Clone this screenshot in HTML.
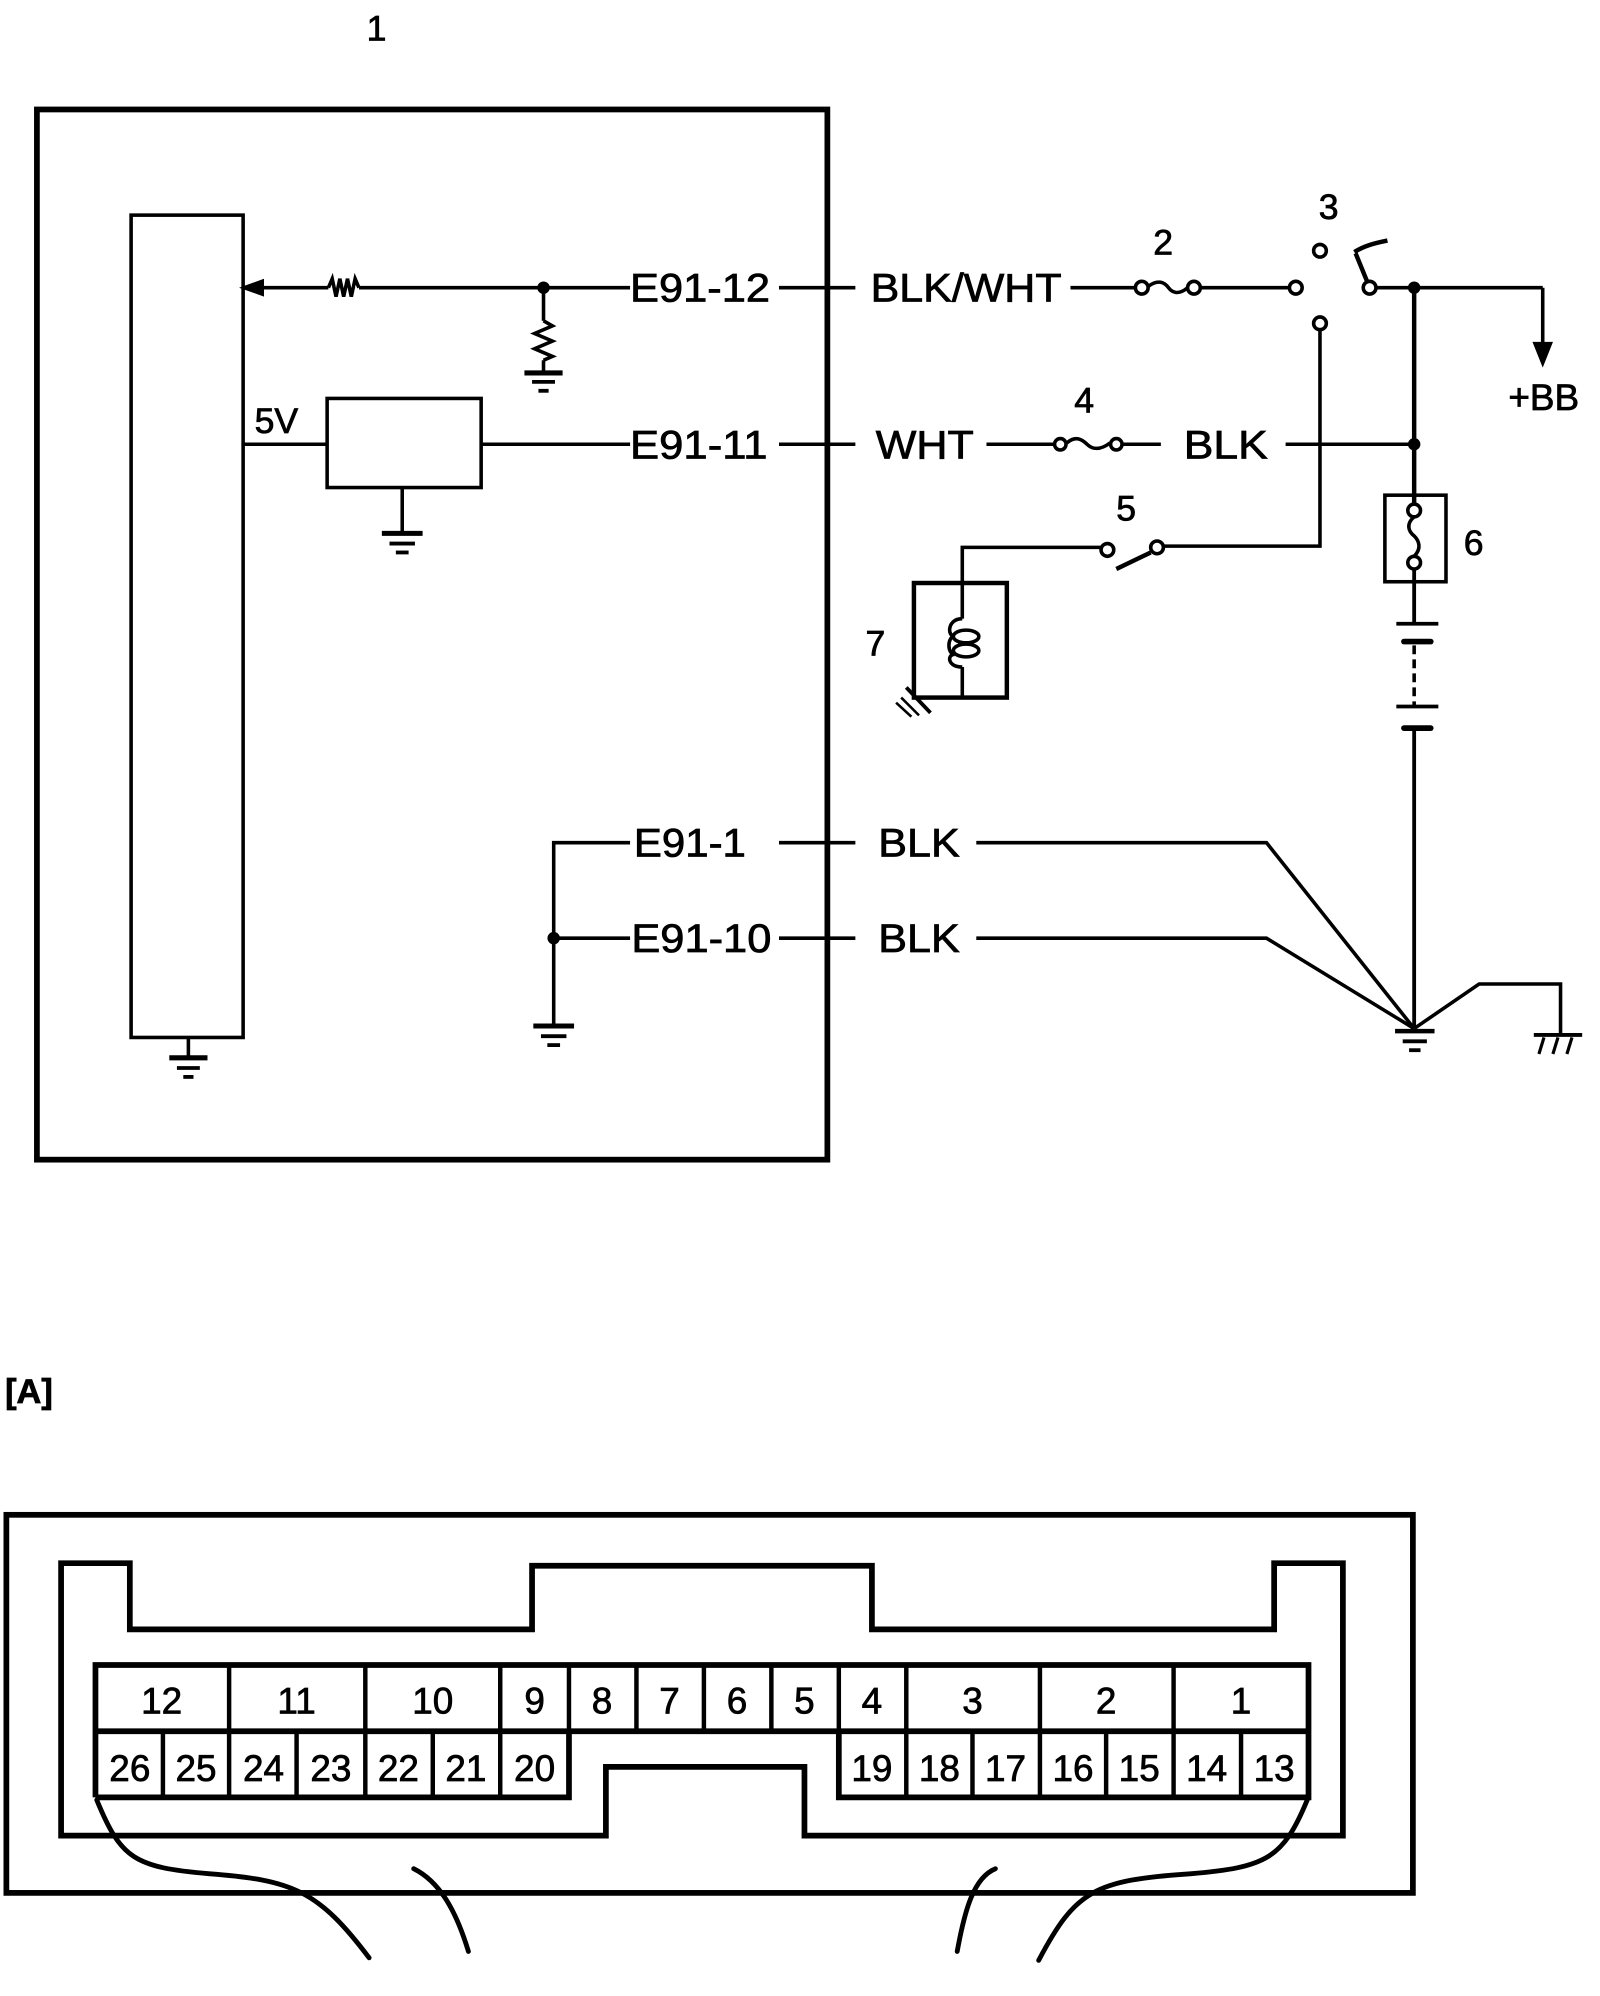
<!DOCTYPE html>
<html><head><meta charset="utf-8"><style>
html,body{margin:0;padding:0;background:#fff;}
svg{display:block;}
text{font-family:"Liberation Sans",Arial,sans-serif;fill:#000;stroke:#000;stroke-width:0.6;}
</style></head><body>
<svg width="1600" height="1996" viewBox="0 0 1257 1568" preserveAspectRatio="none" xmlns="http://www.w3.org/2000/svg">
<g fill="none" stroke="#000" stroke-width="2.8" stroke-linecap="butt">
<rect x="29" y="86" width="621" height="825" stroke-width="4.5"/>
<rect x="103" y="169" width="88" height="646"/>
<line x1="148" y1="815" x2="148" y2="830"/>
<line x1="133" y1="831" x2="163" y2="831" stroke-width="4"/>
<line x1="139" y1="839" x2="157" y2="839" stroke-width="3"/>
<line x1="144" y1="846" x2="152" y2="846" stroke-width="3"/>
<line x1="200" y1="226" x2="258" y2="226"/>
<polygon points="192,226 206,221 206,231" fill="#000"/>
<polyline points="258,226 261,219 264,233 267,219 270,233 273,219 276,233 279,219 282,226"/>
<line x1="282" y1="226" x2="495" y2="226"/>
<circle cx="427" cy="226" r="3.5" fill="#000"/>
<line x1="427" y1="226" x2="427" y2="252"/>
<polyline points="427,252 434,256 420,262 434,268 420,274 434,280 427,283"/>
<line x1="427" y1="283" x2="427" y2="292"/>
<line x1="412" y1="293" x2="442" y2="293" stroke-width="4"/>
<line x1="418" y1="300" x2="436" y2="300" stroke-width="3"/>
<line x1="423" y1="307" x2="431" y2="307" stroke-width="3"/>
<line x1="612" y1="226" x2="672" y2="226"/>
<line x1="841" y1="226" x2="892" y2="226"/>
<circle cx="897" cy="226" r="5"/><circle cx="938" cy="226" r="5"/>
<path d="M902,225 C910,219 915,222 918,226 C921,230 926,232 933,226"/>
<line x1="943" y1="226" x2="1013" y2="226"/>
<circle cx="1018" cy="226" r="5"/>
<circle cx="1037" cy="197" r="5"/>
<circle cx="1037" cy="254" r="5"/>
<circle cx="1076" cy="226" r="5"/>
<path d="M1074,221 L1065,199 M1064,198 C1072,193 1080,191 1090,189" stroke-width="3.5"/>
<line x1="1081" y1="226" x2="1212" y2="226"/>
<line x1="1212" y1="226" x2="1212" y2="272"/>
<polygon points="1206,270 1218,270 1212,285" fill="#000"/>
<circle cx="1111" cy="226" r="3.5" fill="#000"/>
<line x1="1111" y1="226" x2="1111" y2="395" stroke-width="3.5"/>
<line x1="191" y1="349" x2="257" y2="349"/>
<rect x="257" y="313" width="121" height="70"/>
<line x1="378" y1="349" x2="495" y2="349"/>
<line x1="316" y1="383" x2="316" y2="418"/>
<line x1="300" y1="419" x2="332" y2="419" stroke-width="4"/>
<line x1="306" y1="427" x2="326" y2="427" stroke-width="3"/>
<line x1="311" y1="434" x2="321" y2="434" stroke-width="3"/>
<line x1="612" y1="349" x2="672" y2="349"/>
<line x1="775" y1="349" x2="829" y2="349"/>
<circle cx="833" cy="349" r="4.5"/><circle cx="877" cy="349" r="4.5"/>
<path d="M838,348 C845,342 850,345 854,349 C858,353 864,354 872,348"/>
<line x1="882" y1="349" x2="912" y2="349"/>
<line x1="1010" y1="349" x2="1111" y2="349"/>
<circle cx="1111" cy="349" r="3.5" fill="#000"/>
<polyline points="1037,259 1037,429 914,429"/>
<circle cx="870" cy="432" r="5"/><circle cx="909" cy="430" r="5"/>
<line x1="877" y1="447" x2="904" y2="434" stroke-width="3.5"/>
<polyline points="865,430 756,430 756,458"/>
<rect x="718" y="458" width="73" height="90" stroke-width="3.5"/>
<line x1="756" y1="458" x2="756" y2="486"/>
<path d="M756,486 C744,486 744,500 750,500 C744,500 744,514 750,514 C744,514 744,524 756,524"/>
<ellipse cx="759" cy="500" rx="10" ry="5"/>
<ellipse cx="759" cy="511" rx="10" ry="5"/>
<line x1="756" y1="524" x2="756" y2="548"/>
<line x1="712" y1="540" x2="731" y2="560" stroke-width="3"/>
<line x1="708" y1="548" x2="722" y2="562" stroke-width="2"/>
<line x1="704" y1="552" x2="716" y2="563" stroke-width="2"/>
<rect x="1088" y="389" width="48" height="68"/>
<circle cx="1111" cy="401" r="5"/><circle cx="1111" cy="442" r="5"/>
<path d="M1111,406 C1104,412 1107,418 1111,421 C1115,425 1117,431 1111,437"/>
<line x1="1111" y1="447" x2="1111" y2="490" stroke-width="3"/>
<line x1="1097" y1="490" x2="1130" y2="490" stroke-width="3"/>
<line x1="1103" y1="504" x2="1124" y2="504" stroke-width="4.5" stroke-linecap="round"/>
<line x1="1111" y1="507" x2="1111" y2="555" stroke-dasharray="7,4"/>
<line x1="1097" y1="555" x2="1130" y2="555" stroke-width="3"/>
<line x1="1103" y1="572" x2="1124" y2="572" stroke-width="4.5" stroke-linecap="round"/>
<line x1="1111" y1="572" x2="1111" y2="808" stroke-width="3"/>
<line x1="1096" y1="810" x2="1127" y2="810" stroke-width="3.5"/>
<line x1="1102" y1="818" x2="1121" y2="818" stroke-width="3"/>
<line x1="1107" y1="825" x2="1116" y2="825" stroke-width="3"/>
<polyline points="767,662 995,662 1111,808"/>
<polyline points="767,737 995,737 1111,808"/>
<polyline points="1111,808 1162,773 1226,773 1226,812"/>
<line x1="1205" y1="813" x2="1243" y2="813" stroke-width="3"/>
<line x1="1213" y1="815" x2="1209" y2="828" stroke-width="2.5"/>
<line x1="1224" y1="815" x2="1220" y2="828" stroke-width="2.5"/>
<line x1="1235" y1="815" x2="1231" y2="828" stroke-width="2.5"/>
<polyline points="495,662 435,662 435,805"/>
<line x1="435" y1="737" x2="495" y2="737"/>
<circle cx="435" cy="737" r="3.5" fill="#000"/>
<line x1="419" y1="806" x2="451" y2="806" stroke-width="4"/>
<line x1="425" y1="814" x2="445" y2="814" stroke-width="3"/>
<line x1="430" y1="821" x2="440" y2="821" stroke-width="3"/>
<line x1="612" y1="662" x2="672" y2="662"/>
<line x1="612" y1="737" x2="672" y2="737"/>

<rect x="5" y="1190" width="1105" height="297" stroke-width="4.5"/>
<path d="M48,1228 L102,1228 L102,1280 L418,1280 L418,1230 L685,1230 L685,1280 L1001,1280 L1001,1228 L1055,1228 L1055,1442 L632,1442 L632,1388 L476,1388 L476,1442 L48,1442 Z" stroke-width="4.5"/>
<path d="M75,1412 L75,1308 L1028,1308 L1028,1412 L659,1412 L659,1360 M447,1360 L447,1412 L75,1412 M75,1360 L1028,1360" stroke-width="4.5"/>
<g stroke-width="3.5">
<line x1="180" y1="1308" x2="180" y2="1412"/>
<line x1="287" y1="1308" x2="287" y2="1412"/>
<line x1="393" y1="1308" x2="393" y2="1412"/>
<line x1="447" y1="1308" x2="447" y2="1360"/>
<line x1="500" y1="1308" x2="500" y2="1360"/>
<line x1="553" y1="1308" x2="553" y2="1360"/>
<line x1="606" y1="1308" x2="606" y2="1360"/>
<line x1="659" y1="1308" x2="659" y2="1360"/>
<line x1="712" y1="1308" x2="712" y2="1412"/>
<line x1="817" y1="1308" x2="817" y2="1412"/>
<line x1="922" y1="1308" x2="922" y2="1412"/>
<line x1="128" y1="1360" x2="128" y2="1412"/>
<line x1="233" y1="1360" x2="233" y2="1412"/>
<line x1="340" y1="1360" x2="340" y2="1412"/>
<line x1="764" y1="1360" x2="764" y2="1412"/>
<line x1="869" y1="1360" x2="869" y2="1412"/>
<line x1="975" y1="1360" x2="975" y2="1412"/>
</g>
<g stroke-width="3.8" stroke-linecap="round">
<path d="M76,1414 C95,1460 105,1467 165,1472 C230,1477 250,1485 290,1538"/>
<path d="M325,1468 C345,1478 358,1500 368,1533"/>
<path d="M1027,1414 C1008,1460 995,1467 935,1472 C860,1477 845,1485 816,1540"/>
<path d="M782,1468 C765,1475 758,1500 752,1533"/>
</g>
</g>

<g font-size="31">
<text x="288" y="32" font-size="28">1</text>
<text x="495" y="237" textLength="110" lengthAdjust="spacingAndGlyphs">E91-12</text>
<text x="684" y="237" textLength="150" lengthAdjust="spacingAndGlyphs">BLK/WHT</text>
<text x="495" y="360" textLength="108" lengthAdjust="spacingAndGlyphs">E91-11</text>
<text x="688" y="360" textLength="77" lengthAdjust="spacingAndGlyphs">WHT</text>
<text x="930" y="360" textLength="66" lengthAdjust="spacingAndGlyphs">BLK</text>
<text x="498" y="673" textLength="88" lengthAdjust="spacingAndGlyphs">E91-1</text>
<text x="690" y="673" textLength="64" lengthAdjust="spacingAndGlyphs">BLK</text>
<text x="496" y="748" textLength="110" lengthAdjust="spacingAndGlyphs">E91-10</text>
<text x="690" y="748" textLength="64" lengthAdjust="spacingAndGlyphs">BLK</text>
<text x="200" y="340" font-size="28">5V</text>
<text x="1185" y="322" font-size="29">+BB</text>
<text x="906" y="200" font-size="28">2</text>
<text x="1036" y="172" font-size="28">3</text>
<text x="844" y="324" font-size="28">4</text>
<text x="877" y="409" font-size="28">5</text>
<text x="1150" y="436" font-size="28">6</text>
<text x="680" y="515" font-size="28">7</text>
<text x="4" y="1102" font-size="27" font-weight="bold">[A]</text>
</g>
<g font-size="29" text-anchor="middle">
<text x="127" y="1346">12</text><text x="233" y="1346">11</text><text x="340" y="1346">10</text>
<text x="420" y="1346">9</text><text x="473" y="1346">8</text><text x="526" y="1346">7</text>
<text x="579" y="1346">6</text><text x="632" y="1346">5</text><text x="685" y="1346">4</text>
<text x="764" y="1346">3</text><text x="869" y="1346">2</text><text x="975" y="1346">1</text>
<text x="102" y="1399">26</text><text x="154" y="1399">25</text><text x="207" y="1399">24</text>
<text x="260" y="1399">23</text><text x="313" y="1399">22</text><text x="366" y="1399">21</text>
<text x="420" y="1399">20</text>
<text x="685" y="1399">19</text><text x="738" y="1399">18</text><text x="790" y="1399">17</text>
<text x="843" y="1399">16</text><text x="895" y="1399">15</text><text x="948" y="1399">14</text>
<text x="1001" y="1399">13</text>
</g>
</svg>
</body></html>
